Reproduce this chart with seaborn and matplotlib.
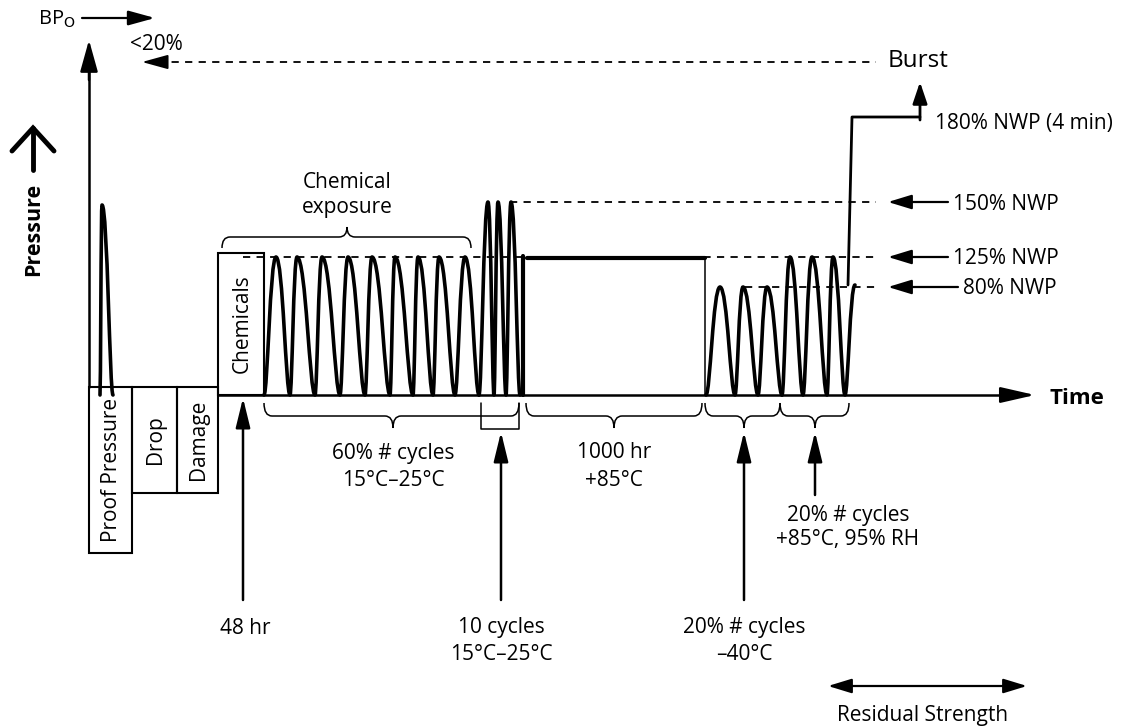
import matplotlib
matplotlib.use("Agg")
import matplotlib.pyplot as plt
from matplotlib.path import Path
from matplotlib.patches import PathPatch, Rectangle
import seaborn as sns

sns.set_style("white")
plt.rcParams['font.family'] = ['Open Sans', 'DejaVu Sans']
plt.rcParams['text.color'] = 'black'

# the sketch is laid out in pixel units, y grows downward
base_y = 395
lvl_80 = 287
lvl_125 = 257
lvl_150 = 202
lvl_180 = 117

# proof pressure spike
proof_troughs = [100, 113]
proof_peaks = [102]
proof_top = 205

# chemical exposure cycles (125% NWP)
chem_troughs = [264, 290, 315, 340, 365, 390, 413, 433, 455, 479]
chem_peaks = [276, 297, 322, 348, 372, 395, 418, 439, 465]
# 10 cycles at 150% NWP
hi_troughs = [479, 494, 506, 520]
hi_peaks = [488, 498, 511]
# 1000 hr hold at 125%
hold_x = [523, 705]
# -40C cycles (80% NWP)
cold_troughs = [706, 735, 758, 782]
cold_peaks = [720, 743, 767]
# +85C / 95% RH cycles (125% NWP)
wet_troughs = [782, 803, 827, 845]
wet_peaks = [790, 812, 833]
wet_end = (855, 285)
# burst ramp
burst_x = [848, 852, 920]
burst_y = [285, lvl_180, lvl_180]

boxes = ["Proof Pressure", "Drop", "Damage", "Chemicals"]
box_x0 = [89, 132, 177, 218]
box_x1 = [132, 177, 218, 264]
box_y0 = [387, 387, 387, 253]
box_y1 = [553, 493, 493, 395]

braces_lo = [(264, 519, 393), (526, 702, 614), (705, 780, 744), (780, 849, 815)]
brace_labels = [("60% # cycles", "15°C–25°C"), ("1000 hr", "+85°C")]

nwp_labels = ["150% NWP", "125% NWP", "80% NWP"]
nwp_levels = [lvl_150, lvl_125, lvl_80]
nwp_start = [510, 243, 745]
nwp_tail = [948, 948, 958]

fig = plt.figure(figsize=(11.22, 7.27), dpi=100)
ax = fig.add_axes([0, 0, 1, 1])
ax.set_xlim(0, 1122)
ax.set_ylim(727, 0)
ax.axis("off")


def wave(troughs, peaks, top, end=None):
    pts = [(troughs[0], base_y)]
    for i, p in enumerate(peaks):
        pts += [(p, top), (troughs[i + 1], base_y)]
    if end is not None:
        pts.append(end)
    verts = [pts[0]]
    codes = [Path.MOVETO]
    kt, kp = 0.3, 0.5  # control arm at trough / at peak
    for (x0, y0), (x1, y1) in zip(pts[:-1], pts[1:]):
        dx = x1 - x0
        if y1 < y0:  # going up
            c1 = (x0 + kt * dx, y0)
            c2 = (x1 - kp * dx, y1)
        else:
            c1 = (x0 + kp * dx, y0)
            c2 = (x1 - kt * dx, y1)
        verts += [c1, c2, (x1, y1)]
        codes += [Path.CURVE4] * 3
    ax.add_patch(PathPatch(Path(verts, codes), fill=False, lw=2.6,
                           edgecolor="black", capstyle="round",
                           joinstyle="round", zorder=3))


def arrow(tail, tip, hl=0.9, hw=0.22, lw=1.8, style="-|>"):
    ax.annotate("", xy=tip, xytext=tail,
                arrowprops=dict(arrowstyle=f"{style},head_length={hl},head_width={hw}",
                                mutation_scale=20, lw=lw, color="black",
                                shrinkA=0, shrinkB=0))


def brace(x0, x1, xt, y_end, y_mid, y_tip, r=8):
    verts = [(x0, y_end), (x0, y_mid), (x0 + r, y_mid), (xt - r, y_mid),
             (xt, y_mid), (xt, y_tip), (xt, y_mid), (xt + r, y_mid),
             (x1 - r, y_mid), (x1, y_mid), (x1, y_end)]
    codes = [Path.MOVETO, Path.CURVE3, Path.CURVE3, Path.LINETO,
             Path.CURVE3, Path.CURVE3, Path.CURVE3, Path.CURVE3,
             Path.LINETO, Path.CURVE3, Path.CURVE3]
    ax.add_patch(PathPatch(Path(verts, codes), fill=False, lw=1.1,
                           edgecolor="black"))


fs = 15

# boxes on the left
for name, a, b, c, d in zip(boxes, box_x0, box_x1, box_y0, box_y1):
    ax.add_patch(Rectangle((a, c), b - a, d - c, fill=False, lw=1.5,
                           edgecolor="black"))
    ax.text((a + b) / 2 + 1, (c + d) / 2, name, rotation=90, ha="center",
            va="center", fontsize=fs)

# axes
ax.plot([89, 89], [387, 70], color="black", lw=1.8)
arrow((89, 80), (89, 40), hl=0.97, hw=0.27)
ax.plot([218, 1010], [base_y, base_y], color="black", lw=1.8)
arrow((1000, base_y), (1035, base_y), hl=1.05, hw=0.24)
ax.text(1050, 398, "Time", fontsize=16, fontweight="bold", va="center")
ax.text(34, 229, "Pressure", rotation=90, fontsize=15.5, fontweight="bold",
        ha="center", va="center")
ax.plot([33, 33], [170, 128], color="black", lw=3.5)
ax.plot([12, 33, 54], [151, 128, 151], color="black", lw=3.5,
        solid_joinstyle="miter")

# BP and burst reference
ax.text(38, 19, r"BP$_\mathrm{O}$", fontsize=14.5, va="center")
ax.plot([82, 140], [18, 18], color="black", lw=1.6)
arrow((135, 18), (155, 18), hl=0.8, hw=0.22)
ax.text(130, 44, "<20%", fontsize=fs, va="center")
ax.plot([158, 876], [62, 62], color="black", lw=1.3, ls=(0, (4, 3.5)))
arrow((160, 62), (142, 62), hl=0.8, hw=0.22, lw=1.3)
ax.text(888, 61, "Burst", fontsize=17.5, va="center")

# pressure waveforms
wave(proof_troughs, proof_peaks, proof_top)
wave(chem_troughs, chem_peaks, lvl_125)
wave(hi_troughs, hi_peaks, lvl_150)
ax.plot([523, 523], [base_y, 256], color="black", lw=3)
ax.plot([527, hold_x[1]], [258, 258], color="black", lw=3)
ax.plot([hold_x[1], hold_x[1]], [258, base_y], color="black", lw=1.1)
wave(cold_troughs, cold_peaks, lvl_80)
wave(wet_troughs, wet_peaks, lvl_125, end=wet_end)
sns.lineplot(x=burst_x, y=burst_y, sort=False, estimator=None,
             color="black", lw=2, ax=ax)
arrow((920, 120), (920, 82), hl=0.65, hw=0.22, lw=2)
ax.text(935, 123, "180% NWP (4 min)", fontsize=fs, va="center")

# NWP dashed levels
for lab, yv, xs, xt in zip(nwp_labels, nwp_levels, nwp_start, nwp_tail):
    ax.plot([xs, 876], [yv, yv], color="black", lw=1.3, ls=(0, (4, 3.5)))
    arrow((xt, yv), (888, yv), hl=0.72, hw=0.22, lw=1.6)
    ax.text(xt + 5, yv + 2, lab, fontsize=fs, va="center")

# braces
brace(222, 471, 347, 248, 237, 227)
ax.text(347, 183, "Chemical", fontsize=fs, ha="center", va="center")
ax.text(347, 207, "exposure", fontsize=fs, ha="center", va="center")
for x0, x1, xt in braces_lo:
    brace(x0, x1, xt, 403, 416, 428)
for (l1, l2), (x0, x1, xt) in zip(brace_labels, braces_lo):
    ax.text(xt, 453, l1, fontsize=fs, ha="center", va="center")
    ax.text(xt, 480, l2, fontsize=fs, ha="center", va="center")
ax.plot([481, 481, 519, 519], [403, 429, 429, 403], color="black", lw=1.1)

# pointer arrows below the time axis
arrow((243, 600), (243, 398))
ax.text(245, 628, "48 hr", fontsize=fs, ha="center", va="center")
arrow((501, 600), (501, 432))
ax.text(501, 627, "10 cycles", fontsize=fs, ha="center", va="center")
ax.text(501, 654, "15°C–25°C", fontsize=fs, ha="center", va="center")
arrow((744, 600), (744, 432))
ax.text(744, 627, "20% # cycles", fontsize=fs, ha="center", va="center")
ax.text(744, 654, "–40°C", fontsize=fs, ha="center", va="center")
arrow((815, 495), (815, 432))
ax.text(848, 515, "20% # cycles", fontsize=fs, ha="center", va="center")
ax.text(848, 540, "+85°C, 95% RH", fontsize=fs, ha="center", va="center")

# residual strength
arrow((828, 686), (1027, 686), hl=0.72, hw=0.22, lw=1.6, style="<|-|>")
ax.text(923, 716, "Residual Strength", fontsize=fs, ha="center", va="center")

fig.savefig("out.png", dpi=100)
